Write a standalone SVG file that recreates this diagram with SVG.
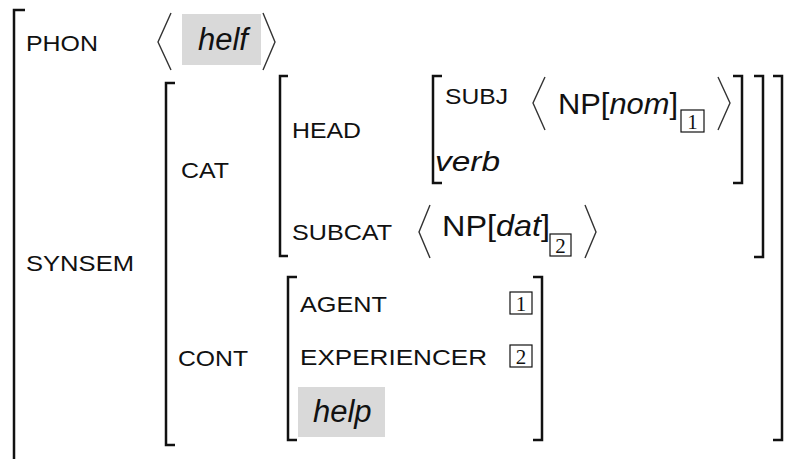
<svg xmlns="http://www.w3.org/2000/svg" width="792" height="459" viewBox="0 0 792 459">
<style>
.br{fill:none;stroke:#111;stroke-width:2.5}
.ang{fill:none;stroke:#333;stroke-width:1.4}
.lbl{font-family:"Liberation Sans",Arial,sans-serif;font-size:22.5px;fill:#111}
.it{font-family:"Liberation Sans",Arial,sans-serif;font-size:31px;font-style:italic;fill:#111}
.np{font-family:"Liberation Sans",Arial,sans-serif;font-size:30px;fill:#111}
.tag{fill:#fff;stroke:#111;stroke-width:1.2}
.tagn{font-family:"Liberation Serif","Times New Roman",serif;font-size:21px;fill:#111;text-anchor:middle}
.hl{fill:#d9d9d9}
</style>
<rect width="792" height="459" fill="#fff"/>
<g id="brackets">
<path class="br" d="M25,10 H14 V459"/>
<path class="br" d="M175,83 H166 V445 H175"/>
<path class="br" d="M773,76 H782 V440 H773"/>
<path class="br" d="M288,76 H280 V256 H288"/>
<path class="br" d="M754,76 H763 V257 H754"/>
<path class="br" d="M442,76 H433 V183 H442"/>
<path class="br" d="M733,76 H742 V183 H733"/>
<path class="br" d="M297,277 H288 V440 H297"/>
<path class="br" d="M533,277 H542 V440 H533"/>
</g>
<g id="phon">
<text class="lbl" x="26" y="51" textLength="72" lengthAdjust="spacingAndGlyphs">PHON</text>
<polyline class="ang" points="171,13 158,42 171,70"/>
<rect class="hl" x="182" y="14" width="79" height="51"/>
<text class="it" x="198" y="50">helf</text>
<polyline class="ang" points="263,13 275,42 263,70"/>
</g>
<g id="synsem">
<text class="lbl" x="26" y="271" textLength="108" lengthAdjust="spacingAndGlyphs">SYNSEM</text>
</g>
<g id="cat">
<text class="lbl" x="181" y="178" textLength="48" lengthAdjust="spacingAndGlyphs">CAT</text>
</g>
<g id="head">
<text class="lbl" x="292" y="138" textLength="69" lengthAdjust="spacingAndGlyphs">HEAD</text>
</g>
<g id="subj">
<text class="lbl" x="445" y="104" textLength="63" lengthAdjust="spacingAndGlyphs">SUBJ</text>
<polyline class="ang" points="545,77 533,103 545,130"/>
<text class="np" x="558" y="114" textLength="120" lengthAdjust="spacingAndGlyphs">NP[<tspan font-style="italic">nom</tspan>]</text>
<rect class="tag" x="681" y="110" width="23" height="22"/>
<text class="tagn" x="692.5" y="129">1</text>
<polyline class="ang" points="718,77 730,103 718,130"/>
</g>
<g id="verb">
<text class="it" x="435" y="171" style="font-size:28px" textLength="65" lengthAdjust="spacingAndGlyphs">verb</text>
</g>
<g id="subcat">
<text class="lbl" x="292" y="240" textLength="100" lengthAdjust="spacingAndGlyphs">SUBCAT</text>
<polyline class="ang" points="430,205 419,232 430,258"/>
<text class="np" x="442" y="236" textLength="108" lengthAdjust="spacingAndGlyphs">NP[<tspan font-style="italic">dat</tspan>]</text>
<rect class="tag" x="550" y="234" width="21" height="22"/>
<text class="tagn" x="560.5" y="253">2</text>
<polyline class="ang" points="585,205 596,232 585,258"/>
</g>
<g id="cont">
<text class="lbl" x="178" y="366" textLength="70" lengthAdjust="spacingAndGlyphs">CONT</text>
</g>
<g id="agent">
<text class="lbl" x="300" y="312" textLength="87" lengthAdjust="spacingAndGlyphs">AGENT</text>
<rect class="tag" x="510" y="292" width="22" height="22"/>
<text class="tagn" x="521" y="311">1</text>
</g>
<g id="experiencer">
<text class="lbl" x="300" y="365" textLength="187" lengthAdjust="spacingAndGlyphs">EXPERIENCER</text>
<rect class="tag" x="510" y="345" width="22" height="22"/>
<text class="tagn" x="521" y="364">2</text>
</g>
<g id="help">
<rect class="hl" x="298" y="387" width="87" height="50"/>
<text class="it" x="313" y="422">help</text>
</g>
</svg>
